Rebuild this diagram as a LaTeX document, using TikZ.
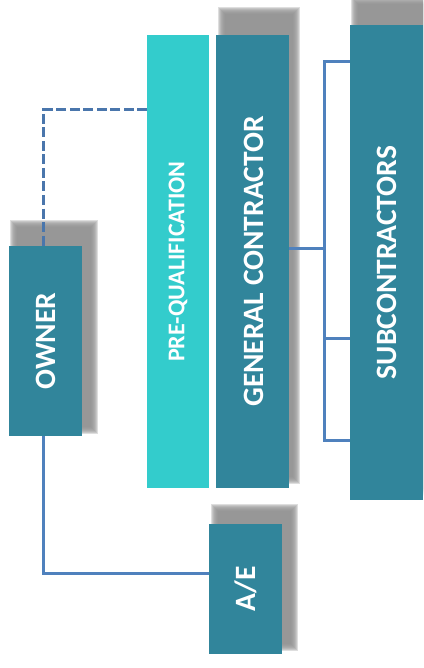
\documentclass[tikz,border=0pt]{standalone}
\usepackage{fontspec}
\setmainfont{Carlito}
\begin{document}
\begin{tikzpicture}[x=1pt,y=-1pt,
  box/.style={fill=teal0, inner sep=0pt, outer sep=0pt, draw=none},
  label/.style={text=white, font=\bfseries\fontsize{29.5}{31}\selectfont, rotate=90, inner sep=0pt},
  link/.style={draw=line0, line width=3pt},
  dashlink/.style={draw=line1, line width=3pt, dash pattern=on 10pt off 3.5pt}]
\definecolor{teal0}{RGB}{49,133,155}
\definecolor{cyan0}{RGB}{51,204,204}
\definecolor{line0}{RGB}{79,129,189}
\definecolor{line1}{RGB}{74,118,172}
\definecolor{shade0}{RGB}{145,145,145}
\useasboundingbox (0,0) rectangle (423,668);
\begin{scope}
\clip (0,0) rectangle (423,668);
% soft drop shadows behind the boxes
\foreach \xa/\ya/\xb/\yb in {14/224/94/430, 215/508/294/647, 222/11/296/480, 355/1/440/492}{
  \foreach \k in {0,...,7}{
    \fill[shade0, opacity=0.3] (\xa-4+\k,\ya-4+\k) rectangle (\xb+4-\k,\yb+4-\k);
  }
}
% boxes
\node[box, minimum width=73pt, minimum height=190pt] (owner) at (45.5,341) {};
\node[box, minimum width=73pt, minimum height=130pt] (ae) at (245.5,589) {};
\node[box, fill=cyan0, minimum width=62pt, minimum height=453pt] (pq) at (178,261.5) {};
\node[box, minimum width=73pt, minimum height=453pt] (gc) at (252.5,261.5) {};
\node[box, minimum width=73pt, minimum height=475pt] (sub) at (386.5,262.5) {};
\end{scope}
% box texts
\node[label] (ownertxt) at (owner.center) {OWNER};
\node[label] (aetxt) at (ae.center) {A/E};
\node[label, font=\bfseries\fontsize{24}{26}\selectfont] (pqtxt) at (pq.center) {PRE-QUALIFICATION};
\node[label] (gctxt) at ([xshift=1pt]gc.center) {GENERAL CONTRACTOR};
\node[label] (subtxt) at (sub.center) {SUBCONTRACTORS};
% connectors
\coordinate (dashy) at (43,110);
\coordinate (aey) at (43,573);
\coordinate (gcout) at (324,248);
\coordinate (br1) at (324,62);
\coordinate (br2) at (324,338);
\coordinate (br3) at (324,440);
\draw[dashlink, line cap=butt] (pq.west |- dashy) -| ([xshift=-2.5pt]owner.north);
\draw[link] ([xshift=-2.5pt]owner.south) |- (ae.west |- aey);
\draw[link] (gc.east |- gcout) -- (gcout);
\draw[link] (br1 -| sub.west) -- (br1) -- (br3) -- (br3 -| sub.west);
\draw[link] (br2) -- (br2 -| sub.west);
\end{tikzpicture}
\end{document}
